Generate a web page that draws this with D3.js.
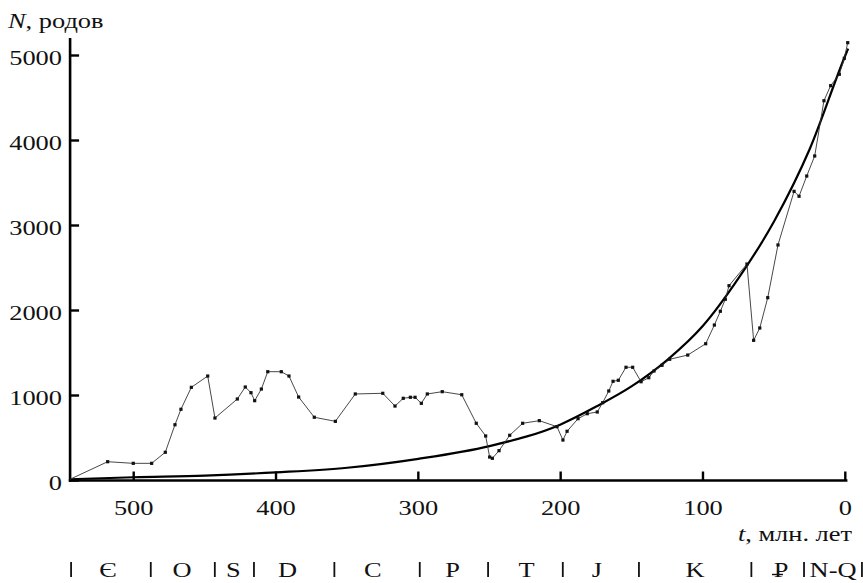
<!DOCTYPE html>
<html>
<head>
<meta charset="utf-8">
<script src="https://d3js.org/d3.v7.min.js"></script>
<style>
  body { margin: 0; background: #fff; }
  text { font-family: "Liberation Serif", "Times New Roman", serif; fill: #111; }
</style>
</head>
<body>
<svg id="chart" width="863" height="583"></svg>
<script>
// genus counts, t in Ma before present
const genusT = [544.7, 518.3, 500.3, 487.4, 477.8, 471, 466.8, 459.5, 448, 442.9, 427.2, 421.6, 417.6, 415, 410.3, 405.8, 396.3, 390.9, 384.1, 373.1, 358.3, 344.3, 325, 316.4, 310.6, 305.6, 302.3, 297.9, 293.7, 283.2, 269.5, 259.3, 252.7, 249.9, 248, 243.3, 235.8, 226.7, 215, 202.6, 198.4, 195.5, 187.8, 181.3, 174.3, 170.5, 166.2, 163.2, 159.5, 154.1, 149.4, 143.5, 138.1, 134.4, 128.8, 123.4, 110.7, 98.1, 92, 87.8, 84.3, 81.7, 69.1, 64.4, 60.1, 54.5, 47.3, 36, 32.5, 27.1, 21.5, 15, 10.3, 4.2, 0.7, -1.7];
const genusN = [15, 221, 202, 202, 332, 656, 838, 1096, 1229, 735, 959, 1100, 1033, 939, 1076, 1280, 1280, 1229, 982, 744, 696, 1018, 1026, 876, 967, 979, 979, 908, 1018, 1045, 1009, 673, 524, 276, 261, 351, 532, 673, 704, 633, 476, 579, 727, 786, 806, 915, 1053, 1167, 1179, 1332, 1332, 1162, 1209, 1288, 1355, 1426, 1476, 1609, 1829, 1991, 2132, 2292, 2547, 1649, 1794, 2151, 2771, 3402, 3344, 3582, 3818, 4468, 4645, 4779, 4967, 5151];

// smooth trend curve
const trendT = [545, 500, 450, 400, 350, 300, 250, 200, 175, 150, 125, 100, 75, 50, 25, 0, -2];
const trendN = [15, 38, 58, 96, 150, 255, 405, 660, 870, 1110, 1420, 1820, 2380, 3050, 3900, 5000, 5080];

const xTicks = [500, 400, 300, 200, 100, 0];
const yTicks = [0, 1000, 2000, 3000, 4000, 5000];

// geological periods row
const periodNames = ["Є", "O", "S", "D", "C", "P", "T", "J", "K", "₽", "N-Q"];
const periodLabelT = [518, 466, 430, 392, 332, 276, 224, 174.5, 105.6, 45.2, 8.6];
const periodBounds = [544, 488, 443, 415.5, 359, 299, 251, 198.5, 145, 66, 29, -11.7];

const svg = d3.select("#chart");
const sx = 1.2; // the figure's type is a bit wide
const rowY = 577;

const x = d3.scaleLinear().domain([500, 0]).range([133.7, 845.3]);
const y = d3.scaleLinear().domain([0, 5000]).range([480.5, 55.5]);

function label(str, px, py, anchor, size) {
  return svg.append("text")
    .attr("transform", `translate(${px},${py}) scale(${sx},1)`)
    .attr("text-anchor", anchor)
    .style("font-size", (size || 22) + "px")
    .text(str);
}

// axes
const axisX0 = x(544.7);
svg.append("line")
  .attr("x1", axisX0).attr("x2", axisX0)
  .attr("y1", y(0) + 1.3).attr("y2", 38)
  .attr("stroke", "#000").attr("stroke-width", 2.6);
svg.append("line")
  .attr("x1", axisX0 - 1.3).attr("x2", x(-1.5))
  .attr("y1", y(0)).attr("y2", y(0))
  .attr("stroke", "#000").attr("stroke-width", 2.6);

svg.selectAll(".ytick").data(yTicks).join("line")
  .attr("class", "ytick")
  .attr("x1", axisX0).attr("x2", axisX0 + 9)
  .attr("y1", d => y(d)).attr("y2", d => y(d))
  .attr("stroke", "#000").attr("stroke-width", 2.4);
svg.selectAll(".xtick").data(xTicks).join("line")
  .attr("class", "xtick")
  .attr("x1", d => x(d)).attr("x2", d => x(d))
  .attr("y1", y(0)).attr("y2", y(0) - 9)
  .attr("stroke", "#000").attr("stroke-width", 2.4);

yTicks.forEach(v => label(String(v), 62, y(v) + 9.5, "end"));
xTicks.forEach(v => label(String(v), x(v), 515, "middle"));

const yTitle = label("", 8, 28, "start");
yTitle.append("tspan").style("font-style", "italic").text("N");
yTitle.append("tspan").text(", родов");

const xTitle = label("", 852, 541, "end");
xTitle.append("tspan").style("font-style", "italic").text("t");
xTitle.append("tspan").text(", млн. лет");

// period row
svg.selectAll(".pbar").data(periodBounds).join("line")
  .attr("class", "pbar")
  .attr("x1", d => x(d)).attr("x2", d => x(d))
  .attr("y1", rowY - 15).attr("y2", rowY)
  .attr("stroke", "#111").attr("stroke-width", 1.8);
periodNames.forEach((name, i) => {
  const px = x(periodLabelT[i]);
  if (name === "₽") {
    label("P", px, rowY, "middle");
    svg.append("line")
      .attr("x1", px - 9).attr("x2", px + 2)
      .attr("y1", rowY - 2.5).attr("y2", rowY - 2.5)
      .attr("stroke", "#111").attr("stroke-width", 1.4);
  } else {
    label(name, px, rowY, "middle");
  }
});

// trend curve
const trend = trendT.map((t, i) => [t, trendN[i]]);
svg.append("path")
  .datum(trend)
  .attr("fill", "none")
  .attr("stroke", "#000")
  .attr("stroke-width", 2.2)
  .attr("d", d3.line().x(d => x(d[0])).y(d => y(d[1])).curve(d3.curveMonotoneX));

// genus data
const genus = genusT.map((t, i) => [t, genusN[i]]);
svg.append("path")
  .datum(genus)
  .attr("fill", "none")
  .attr("stroke", "#333")
  .attr("stroke-width", 0.9)
  .attr("d", d3.line().x(d => x(d[0])).y(d => y(d[1])));

const ms = 3.2;
svg.selectAll(".pt").data(genus.slice(1)).join("rect")
  .attr("class", "pt")
  .attr("x", d => x(d[0]) - ms / 2)
  .attr("y", d => y(d[1]) - ms / 2)
  .attr("width", ms).attr("height", ms)
  .attr("fill", "#111");
</script>
</body>
</html>
